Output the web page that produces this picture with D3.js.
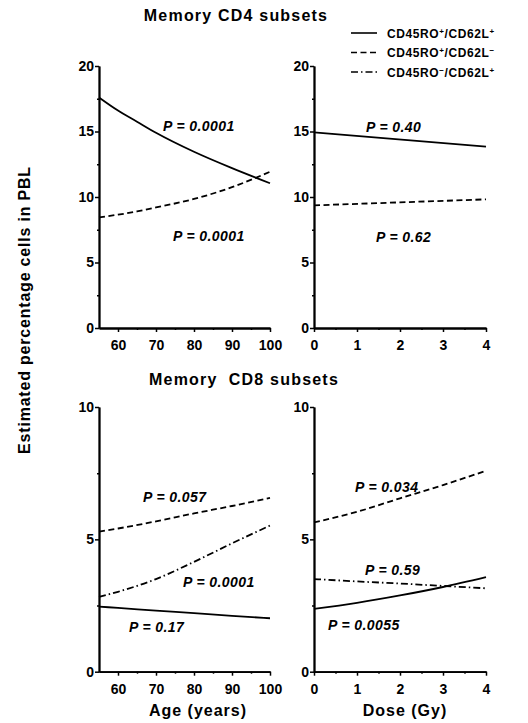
<!DOCTYPE html>
<html>
<head>
<meta charset="utf-8">
<script src="https://cdn.jsdelivr.net/npm/d3@7"></script>
<style>
  body { margin: 0; background: #fff; }
  svg { display: block; font-family: "Liberation Sans", Arial, sans-serif; }
</style>
</head>
<body>
<script>
// tick labels
const ageTicks = [60, 70, 80, 90, 100];
const ageMinorTicks = [65, 75, 85, 95];
const doseTicks = [0, 1, 2, 3, 4];
const doseMinorTicks = [0.5, 1.5, 2.5, 3.5];
const cd4Ticks = [0, 5, 10, 15, 20];
const cd4MinorTicks = [2.5, 7.5, 12.5, 17.5];
const cd8Ticks = [0, 5, 10];
const cd8MinorTicks = [2.5, 7.5];

// legend
const subsetNames = [
  ["CD45RO", "+", "/CD62L", "+"],
  ["CD45RO", "+", "/CD62L", "\u2212"],
  ["CD45RO", "\u2212", "/CD62L", "+"]
];

// CD4 vs age
const cd4Ages = [55, 60, 65, 70, 80, 90, 100];
const cd4AgePlusPlus = [17.6, 16.6, 15.75, 14.9, 13.45, 12.2, 11.05];
const cd4AgePlusMinus = [8.45, 8.65, 8.9, 9.2, 9.85, 10.75, 11.93];

// CD4 vs dose
const cd4Doses = [0, 4];
const cd4DosePlusPlus = [14.94, 13.84];
const cd4DosePlusMinus = [9.36, 9.82];

// CD8 vs age
const cd8Ages = [55, 60, 70, 80, 90, 100];
const cd8AgePlusPlus = [2.46, 2.41, 2.31, 2.21, 2.11, 2.02];
const cd8AgePlusMinus = [5.29, 5.41, 5.68, 5.98, 6.26, 6.57];
const cd8AgeMinusPlus = [2.83, 3.02, 3.5, 4.15, 4.85, 5.52];

// CD8 vs dose
const cd8Doses = [0, 1, 2, 3, 4];
const cd8DosePlusPlus = [2.37, 2.6, 2.88, 3.2, 3.57];
const cd8DosePlusMinus = [5.64, 6.04, 6.55, 7.05, 7.59];
const cd8DoseMinusPlus = [3.5, 3.41, 3.33, 3.24, 3.15];

// P values
const cd4AgePValues = ["P = 0.0001", "P = 0.0001"];
const cd4DosePValues = ["P = 0.40", "P = 0.62"];
const cd8AgePValues = ["P = 0.057", "P = 0.0001", "P = 0.17"];
const cd8DosePValues = ["P = 0.034", "P = 0.59", "P = 0.0055"];

const width = 528;
const height = 723;
const dashStyles = [null, "6,3.5", "7,3,1.5,3"];

const svg = d3.select("body").append("svg")
  .attr("width", width)
  .attr("height", height);

const styleAxis = (axisGroup) => {
  axisGroup.selectAll("path").attr("stroke", "#000").attr("stroke-width", 1.8);
  axisGroup.selectAll("line").attr("stroke", "#000").attr("stroke-width", 1.5);
  axisGroup.selectAll("text")
    .attr("fill", "#000")
    .style("font-size", "14px")
    .style("font-weight", "bold")
    .style("font-family", "'Liberation Sans', Arial, sans-serif");
};

function drawPanel(opts) {
  const x = d3.scaleLinear().domain(opts.xDomain).range(opts.xRange);
  const y = d3.scaleLinear().domain(opts.yDomain).range(opts.yRange);
  const g = svg.append("g");
  const bottom = opts.yRange[0];
  const left = opts.xRange[0];

  // minor ticks
  g.append("g")
    .attr("transform", `translate(0,${bottom})`)
    .call(d3.axisBottom(x).tickValues(opts.xMinor).tickSize(2).tickSizeOuter(0).tickFormat(""))
    .call(styleAxis);
  g.append("g")
    .attr("transform", `translate(${left},0)`)
    .call(d3.axisLeft(y).tickValues(opts.yMinor).tickSize(2).tickSizeOuter(0).tickFormat(""))
    .call(styleAxis);

  // major ticks
  g.append("g")
    .attr("transform", `translate(0,${bottom})`)
    .call(d3.axisBottom(x).tickValues(opts.xMajor).tickFormat(d3.format("d"))
      .tickSize(4).tickPadding(8).tickSizeOuter(0))
    .call(styleAxis);
  g.append("g")
    .attr("transform", `translate(${left},0)`)
    .call(d3.axisLeft(y).tickValues(opts.yMajor).tickFormat(d3.format("d"))
      .tickSize(4).tickPadding(1).tickSizeOuter(0))
    .call(styleAxis);

  const line = d3.line()
    .x((d) => x(d[0]))
    .y((d) => y(d[1]))
    .curve(d3.curveMonotoneX);

  opts.series.forEach((s) => {
    g.append("path")
      .datum(opts.xValues.map((v, i) => [v, s.values[i]]))
      .attr("d", line)
      .attr("fill", "none")
      .attr("stroke", "#000")
      .attr("stroke-width", 1.8)
      .attr("stroke-dasharray", dashStyles[s.type]);
  });

  opts.pLabels.forEach((p) => {
    g.append("text")
      .attr("x", p.x)
      .attr("y", p.y)
      .style("font-size", "14px")
      .style("font-weight", "bold")
      .style("font-style", "italic")
      .style("letter-spacing", "0.4px")
      .text(p.text);
  });
}

// Memory CD4, age
drawPanel({
  xDomain: [55, 100], xRange: [99, 270],
  yDomain: [0, 20], yRange: [328, 66],
  xMajor: ageTicks, xMinor: ageMinorTicks,
  yMajor: cd4Ticks, yMinor: cd4MinorTicks,
  xValues: cd4Ages,
  series: [
    { values: cd4AgePlusPlus, type: 0 },
    { values: cd4AgePlusMinus, type: 1 }
  ],
  pLabels: [
    { text: cd4AgePValues[0], x: 163, y: 131 },
    { text: cd4AgePValues[1], x: 173, y: 241 }
  ]
});

// Memory CD4, dose
drawPanel({
  xDomain: [0, 4], xRange: [314, 486],
  yDomain: [0, 20], yRange: [328, 66],
  xMajor: doseTicks, xMinor: doseMinorTicks,
  yMajor: cd4Ticks, yMinor: cd4MinorTicks,
  xValues: cd4Doses,
  series: [
    { values: cd4DosePlusPlus, type: 0 },
    { values: cd4DosePlusMinus, type: 1 }
  ],
  pLabels: [
    { text: cd4DosePValues[0], x: 366, y: 131.5 },
    { text: cd4DosePValues[1], x: 376, y: 241.5 }
  ]
});

// Memory CD8, age
drawPanel({
  xDomain: [55, 100], xRange: [99, 270],
  yDomain: [0, 10], yRange: [671.7, 407],
  xMajor: ageTicks, xMinor: ageMinorTicks,
  yMajor: cd8Ticks, yMinor: cd8MinorTicks,
  xValues: cd8Ages,
  series: [
    { values: cd8AgePlusPlus, type: 0 },
    { values: cd8AgePlusMinus, type: 1 },
    { values: cd8AgeMinusPlus, type: 2 }
  ],
  pLabels: [
    { text: cd8AgePValues[0], x: 143, y: 501.5 },
    { text: cd8AgePValues[1], x: 183, y: 587 },
    { text: cd8AgePValues[2], x: 129, y: 631.5 }
  ]
});

// Memory CD8, dose
drawPanel({
  xDomain: [0, 4], xRange: [314, 486],
  yDomain: [0, 10], yRange: [671.7, 407],
  xMajor: doseTicks, xMinor: doseMinorTicks,
  yMajor: cd8Ticks, yMinor: cd8MinorTicks,
  xValues: cd8Doses,
  series: [
    { values: cd8DosePlusPlus, type: 0 },
    { values: cd8DosePlusMinus, type: 1 },
    { values: cd8DoseMinusPlus, type: 2 }
  ],
  pLabels: [
    { text: cd8DosePValues[0], x: 355, y: 491.5 },
    { text: cd8DosePValues[1], x: 365, y: 575 },
    { text: cd8DosePValues[2], x: 328, y: 629.5 }
  ]
});

// titles and axis labels
const bigText = (txt, x, y, size, spacing) =>
  svg.append("text")
    .attr("x", x)
    .attr("y", y)
    .attr("text-anchor", "middle")
    .style("font-size", size + "px")
    .style("font-weight", "bold")
    .style("letter-spacing", spacing + "px")
    .text(txt);

bigText("Memory CD4 subsets", 236, 21, 16, 1.2);
bigText("Memory\u00a0\u00a0CD8 subsets", 244, 385, 16, 1.2);
bigText("Age (years)", 198, 716, 16, 1);
bigText("Dose (Gy)", 405, 716, 16, 1);

svg.append("text")
  .attr("transform", "translate(30,310) rotate(-90)")
  .attr("text-anchor", "middle")
  .style("font-size", "16px")
  .style("font-weight", "bold")
  .style("letter-spacing", "0.8px")
  .text("Estimated percentage cells in PBL");

// legend
const legend = svg.append("g");
subsetNames.forEach((parts, i) => {
  const ly = 33 + i * 19.5;
  legend.append("line")
    .attr("x1", 351).attr("x2", 377)
    .attr("y1", ly).attr("y2", ly)
    .attr("stroke", "#000")
    .attr("stroke-width", 1.6)
    .attr("stroke-dasharray", dashStyles[i]);
  const t = legend.append("text")
    .attr("x", 387)
    .attr("y", ly + 4.5)
    .style("font-size", "12px")
    .style("font-weight", "bold")
    .style("letter-spacing", "0.6px");
  t.append("tspan").text(parts[0]);
  t.append("tspan").attr("dy", -4).style("font-size", "8px").text(parts[1]);
  t.append("tspan").attr("dy", 4).text(parts[2]);
  t.append("tspan").attr("dy", -4).style("font-size", "8px").text(parts[3]);
});
</script>
</body>
</html>
